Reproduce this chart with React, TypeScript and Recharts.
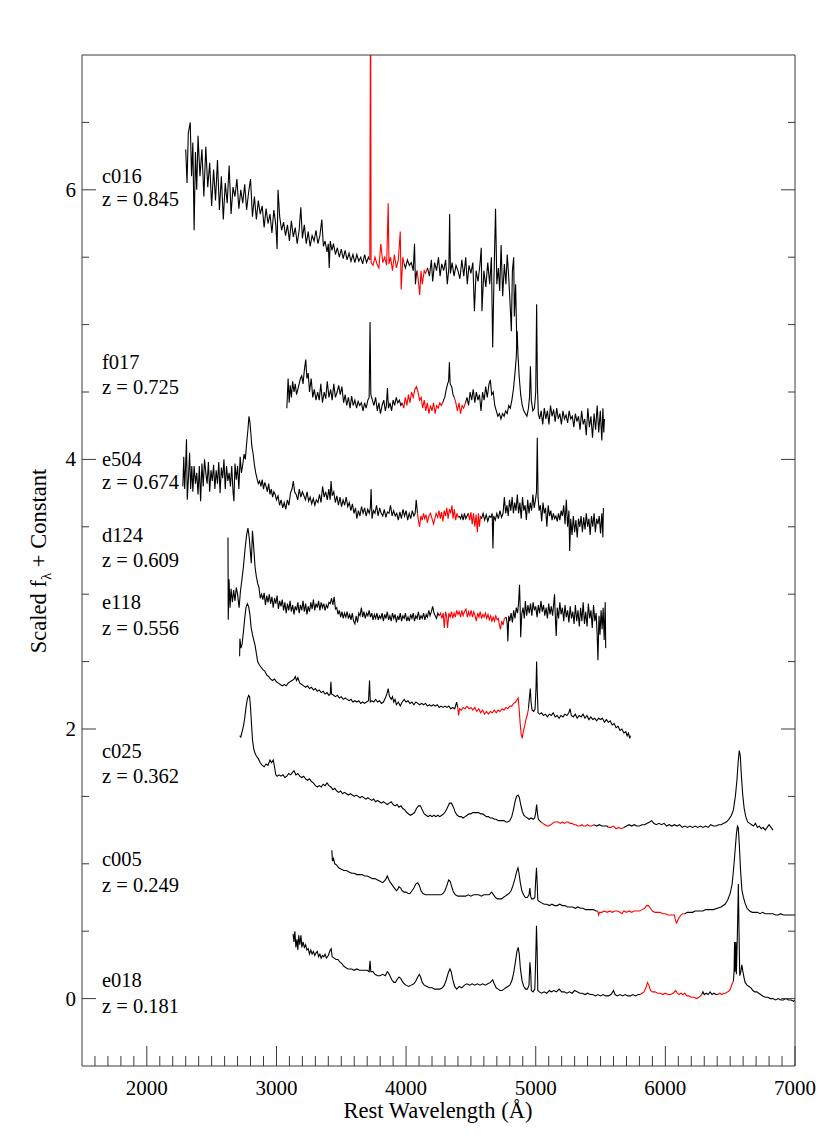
import React from "react";
import { LineChart, Line, XAxis, YAxis } from "recharts";

type Pt = [number, number];

// ---- c016, z = 0.845 ----
const c016A: Pt[] = [
  [2300, 6.3], [2310, 6.05], [2320, 6.42], [2335, 6.5], [2345, 6.1], [2355, 6.35], [2365, 5.7], [2375, 6.28],
  [2385, 6.0], [2395, 6.4], [2410, 6.1], [2425, 6.3], [2440, 5.95], [2455, 6.32], [2470, 6.02], [2485, 6.2],
  [2500, 5.88], [2515, 6.15], [2530, 5.92], [2545, 6.22], [2560, 5.85], [2575, 6.1], [2590, 5.78], [2605, 6.05],
  [2620, 5.9], [2635, 6.18], [2650, 5.82], [2665, 6.02], [2680, 5.95], [2695, 6.08], [2710, 5.86], [2725, 6.0],
  [2740, 5.9], [2755, 6.04], [2770, 5.85], [2785, 5.98], [2800, 6.08], [2815, 5.8], [2830, 5.95], [2845, 5.78],
  [2860, 5.92], [2875, 5.82], [2890, 5.88], [2905, 5.72], [2920, 5.86], [2935, 5.75], [2950, 5.82], [2965, 5.68],
  [2980, 5.85], [2995, 5.74], [3005, 5.56], [3012, 6.0], [3025, 5.8], [3040, 5.7], [3055, 5.76], [3070, 5.66],
  [3085, 5.74], [3100, 5.62], [3115, 5.77], [3130, 5.65], [3145, 5.72], [3160, 5.6], [3175, 5.7], [3188, 5.87],
  [3200, 5.64], [3215, 5.74], [3230, 5.6], [3245, 5.69], [3260, 5.58], [3275, 5.66], [3290, 5.62], [3305, 5.7],
  [3320, 5.6], [3335, 5.66], [3350, 5.78], [3362, 5.58], [3375, 5.62], [3390, 5.54], [3400, 5.6], [3407, 5.42],
  [3415, 5.62], [3428, 5.55], [3440, 5.6], [3455, 5.52], [3470, 5.57], [3485, 5.5], [3500, 5.56], [3515, 5.49],
  [3530, 5.55], [3545, 5.48], [3560, 5.53], [3575, 5.47], [3590, 5.52], [3605, 5.46], [3620, 5.52], [3635, 5.47],
  [3650, 5.5], [3665, 5.45], [3680, 5.52], [3695, 5.46], [3710, 5.5], [3720, 5.48],
];
const c016B: Pt[] = [
  [3720, 5.48], [3726, 7.6], [3730, 5.46], [3745, 5.44], [3760, 5.5], [3775, 5.45], [3790, 5.42], [3805, 5.6],
  [3820, 5.46], [3835, 5.5], [3850, 5.44], [3862, 5.9], [3868, 5.45], [3880, 5.5], [3895, 5.4], [3910, 5.52],
  [3925, 5.42], [3940, 5.48], [3955, 5.69], [3962, 5.26], [3975, 5.5], [3985, 5.45],
];
const c016C: Pt[] = [
  [3985, 5.45], [3995, 5.42], [4010, 5.48], [4025, 5.44], [4040, 5.46], [4055, 5.4], [4065, 5.6], [4072, 5.3],
  [4080, 5.38], [4085, 5.4],
];
const c016D: Pt[] = [
  [4085, 5.4], [4095, 5.32], [4105, 5.22], [4115, 5.4], [4125, 5.3], [4140, 5.4], [4150, 5.38], [4165, 5.42],
];
const c016E: Pt[] = [
  [4165, 5.42], [4180, 5.36], [4195, 5.48], [4205, 5.32], [4220, 5.46], [4235, 5.4], [4250, 5.5], [4262, 5.36],
  [4275, 5.45], [4290, 5.4], [4305, 5.48], [4318, 5.3], [4330, 5.42], [4336, 5.82], [4342, 5.38], [4355, 5.46],
  [4370, 5.36], [4385, 5.44], [4400, 5.4], [4415, 5.34], [4430, 5.48], [4445, 5.36], [4460, 5.5], [4472, 5.3],
  [4485, 5.44], [4500, 5.38], [4515, 5.46], [4527, 5.1], [4540, 5.4], [4555, 5.32], [4570, 5.45], [4580, 5.57],
  [4585, 5.1], [4600, 5.4], [4615, 5.28], [4630, 5.46], [4645, 5.3], [4658, 5.5], [4668, 4.83], [4678, 5.35],
  [4690, 5.86], [4700, 5.3], [4712, 5.42], [4722, 5.25], [4733, 5.59], [4745, 5.21], [4758, 5.45], [4770, 5.3],
  [4780, 5.52], [4790, 5.38], [4800, 5.2], [4812, 4.95], [4820, 5.4], [4830, 5.5], [4835, 5.06], [4845, 5.3],
  [4855, 4.82],
];

// ---- f017, z = 0.725 ----
const f017A: Pt[] = [
  [3080, 4.38], [3090, 4.6], [3098, 4.42], [3106, 4.55], [3115, 4.46], [3125, 4.58], [3135, 4.5], [3145, 4.56],
  [3155, 4.48], [3170, 4.54], [3185, 4.6], [3195, 4.62], [3205, 4.56], [3215, 4.66], [3226, 4.74], [3235, 4.6],
  [3245, 4.64], [3255, 4.5], [3268, 4.6], [3280, 4.46], [3292, 4.52], [3305, 4.44], [3318, 4.5], [3330, 4.44],
  [3342, 4.56], [3355, 4.42], [3368, 4.5], [3380, 4.45], [3392, 4.58], [3405, 4.46], [3418, 4.52], [3430, 4.44],
  [3442, 4.56], [3455, 4.46], [3468, 4.5], [3480, 4.55], [3492, 4.48], [3505, 4.54], [3518, 4.42], [3530, 4.48],
  [3542, 4.4], [3555, 4.46], [3568, 4.38], [3580, 4.47], [3592, 4.4], [3605, 4.44], [3618, 4.38], [3630, 4.43],
  [3642, 4.4], [3655, 4.42], [3668, 4.36], [3680, 4.42], [3692, 4.38], [3705, 4.44], [3715, 4.46], [3722, 5.02],
  [3728, 4.48], [3740, 4.44], [3752, 4.4], [3765, 4.46], [3778, 4.36], [3790, 4.42], [3802, 4.34], [3815, 4.4],
  [3828, 4.44], [3840, 4.36], [3848, 4.4], [3856, 4.53], [3864, 4.38], [3876, 4.42], [3888, 4.36], [3900, 4.44],
  [3912, 4.4], [3924, 4.46], [3936, 4.42], [3948, 4.44], [3960, 4.4], [3970, 4.42],
];
const f017B: Pt[] = [
  [3970, 4.42], [3982, 4.38], [3994, 4.46], [4006, 4.4], [4018, 4.48], [4030, 4.42], [4042, 4.5], [4055, 4.46],
  [4068, 4.52], [4080, 4.54], [4092, 4.5], [4104, 4.44], [4116, 4.46], [4128, 4.38], [4140, 4.44], [4152, 4.36],
  [4164, 4.42], [4176, 4.34], [4188, 4.4], [4200, 4.36], [4212, 4.42], [4224, 4.34], [4236, 4.4], [4248, 4.38],
  [4260, 4.42], [4272, 4.4], [4285, 4.43],
];
const f017C: Pt[] = [
  [4285, 4.43], [4298, 4.46], [4310, 4.52], [4320, 4.56], [4328, 4.58], [4334, 4.72], [4340, 4.56], [4352, 4.54],
  [4362, 4.48], [4372, 4.46],
];
const f017D: Pt[] = [
  [4372, 4.46], [4384, 4.42], [4396, 4.36], [4408, 4.42], [4420, 4.34], [4432, 4.4], [4444, 4.38], [4458, 4.42],
];
const f017E: Pt[] = [
  [4458, 4.42], [4470, 4.46], [4482, 4.4], [4494, 4.5], [4506, 4.44], [4518, 4.52], [4530, 4.42], [4542, 4.5],
  [4554, 4.44], [4566, 4.48], [4578, 4.36], [4590, 4.5], [4602, 4.44], [4614, 4.54], [4626, 4.46], [4640, 4.56],
  [4650, 4.59], [4660, 4.48], [4672, 4.5], [4684, 4.4], [4696, 4.36], [4708, 4.32], [4720, 4.34], [4732, 4.3],
  [4744, 4.34], [4756, 4.32], [4768, 4.36], [4780, 4.34], [4792, 4.4], [4804, 4.38], [4816, 4.44], [4828, 4.52],
  [4840, 4.64], [4850, 4.76], [4857, 4.95], [4863, 4.78], [4872, 4.62], [4884, 4.48], [4896, 4.4], [4908, 4.36],
  [4920, 4.34], [4932, 4.32], [4944, 4.38], [4952, 4.46], [4959, 4.69], [4966, 4.44], [4978, 4.36], [4990, 4.38],
  [5000, 4.5], [5007, 5.15], [5013, 4.55], [5020, 4.34], [5030, 4.3], [5042, 4.36], [5054, 4.26], [5066, 4.38],
  [5078, 4.3], [5090, 4.36], [5102, 4.26], [5114, 4.4], [5126, 4.32], [5138, 4.37], [5150, 4.28], [5162, 4.38],
  [5174, 4.3], [5186, 4.34], [5198, 4.26], [5210, 4.36], [5222, 4.3], [5234, 4.33], [5246, 4.27], [5258, 4.36],
  [5270, 4.3], [5282, 4.32], [5294, 4.24], [5306, 4.34], [5318, 4.28], [5330, 4.32], [5342, 4.22], [5354, 4.36],
  [5366, 4.26], [5378, 4.3], [5390, 4.18], [5402, 4.38], [5414, 4.24], [5426, 4.32], [5438, 4.16], [5450, 4.34],
  [5462, 4.22], [5474, 4.4], [5486, 4.2], [5498, 4.36], [5510, 4.14], [5518, 4.38], [5525, 4.2], [5530, 4.3],
];

// ---- e504, z = 0.674 ----
const e504A: Pt[] = [
  [2278, 3.8], [2285, 4.02], [2292, 3.78], [2300, 3.97], [2306, 4.15], [2312, 3.7], [2322, 3.88], [2330, 4.05],
  [2338, 3.78], [2347, 3.95], [2355, 3.76], [2365, 3.95], [2375, 3.82], [2385, 3.9], [2395, 3.74], [2405, 3.95],
  [2415, 3.69], [2425, 3.97], [2435, 3.8], [2445, 4.0], [2455, 3.9], [2465, 3.82], [2475, 3.98], [2485, 3.76],
  [2495, 3.92], [2505, 3.84], [2515, 3.96], [2525, 3.78], [2535, 3.92], [2545, 3.82], [2555, 3.98], [2565, 3.75],
  [2575, 3.94], [2585, 3.86], [2595, 4.0], [2605, 3.78], [2615, 3.95], [2625, 3.84], [2635, 3.9], [2645, 3.8],
  [2655, 3.95], [2665, 3.76], [2672, 3.69], [2680, 3.97], [2690, 3.85], [2700, 3.95], [2710, 3.78], [2720, 4.02],
  [2730, 3.9], [2740, 3.96], [2750, 4.04], [2760, 4.0], [2770, 4.12], [2780, 4.22], [2788, 4.32], [2795, 4.28],
  [2802, 4.2], [2810, 4.1], [2820, 4.04], [2830, 3.96], [2840, 3.9], [2850, 3.86], [2860, 3.82], [2870, 3.84],
  [2880, 3.8], [2890, 3.85], [2900, 3.78], [2910, 3.83], [2920, 3.8], [2930, 3.76], [2940, 3.82], [2950, 3.74],
  [2960, 3.78], [2970, 3.72], [2980, 3.76], [2990, 3.74], [3000, 3.7], [3012, 3.73], [3024, 3.66], [3036, 3.7],
  [3048, 3.64], [3060, 3.68], [3072, 3.63], [3084, 3.7], [3096, 3.66], [3108, 3.75], [3120, 3.78], [3130, 3.84],
  [3140, 3.76], [3152, 3.74], [3164, 3.7], [3176, 3.78], [3188, 3.72], [3200, 3.76], [3212, 3.73], [3224, 3.7],
  [3236, 3.76], [3248, 3.69], [3260, 3.72], [3272, 3.67], [3284, 3.71], [3296, 3.66], [3308, 3.7], [3320, 3.68],
  [3332, 3.74], [3344, 3.68], [3356, 3.8], [3368, 3.72], [3380, 3.76], [3392, 3.7], [3404, 3.78], [3414, 3.7],
  [3421, 3.84], [3430, 3.73], [3442, 3.76], [3454, 3.68], [3466, 3.73], [3478, 3.66], [3490, 3.72], [3502, 3.65],
  [3514, 3.7], [3526, 3.66], [3538, 3.72], [3550, 3.65], [3562, 3.68], [3574, 3.62], [3586, 3.67], [3598, 3.6],
  [3610, 3.64], [3620, 3.56], [3632, 3.62], [3644, 3.58], [3656, 3.65], [3668, 3.6], [3680, 3.64], [3692, 3.58],
  [3704, 3.63], [3716, 3.6], [3724, 3.64], [3730, 3.78], [3737, 3.56], [3748, 3.62], [3760, 3.6], [3772, 3.66],
  [3784, 3.58], [3796, 3.64], [3808, 3.6], [3820, 3.58], [3832, 3.63], [3844, 3.57], [3856, 3.61], [3868, 3.6],
  [3880, 3.66], [3892, 3.58], [3904, 3.62], [3916, 3.58], [3928, 3.6], [3940, 3.55], [3952, 3.61], [3964, 3.56],
  [3976, 3.63], [3988, 3.58], [4000, 3.62], [4012, 3.55], [4024, 3.6], [4036, 3.56], [4048, 3.62], [4060, 3.58],
  [4070, 3.6], [4078, 3.7], [4088, 3.6],
];
const e504B: Pt[] = [
  [4088, 3.6], [4096, 3.54], [4104, 3.5], [4114, 3.58], [4124, 3.55], [4134, 3.6], [4144, 3.56], [4154, 3.59],
  [4164, 3.53], [4176, 3.58], [4188, 3.6], [4200, 3.56], [4212, 3.52], [4222, 3.56], [4232, 3.6], [4244, 3.57],
  [4254, 3.62], [4264, 3.56], [4274, 3.61], [4284, 3.54], [4294, 3.62], [4304, 3.58], [4314, 3.64], [4324, 3.56],
  [4334, 3.63], [4344, 3.6], [4354, 3.66], [4362, 3.56], [4372, 3.63], [4382, 3.55], [4392, 3.6], [4402, 3.57],
  [4410, 3.58],
];
const e504C: Pt[] = [
  [4410, 3.58], [4420, 3.56], [4430, 3.59], [4440, 3.55], [4450, 3.6], [4460, 3.56], [4470, 3.58], [4480, 3.6],
];
const e504D: Pt[] = [
  [4480, 3.6], [4490, 3.55], [4500, 3.61], [4510, 3.52], [4520, 3.6], [4530, 3.5], [4540, 3.59], [4550, 3.46],
  [4558, 3.6], [4566, 3.5], [4574, 3.58], [4582, 3.56],
];
const e504E: Pt[] = [
  [4582, 3.56], [4594, 3.6], [4606, 3.55], [4618, 3.59], [4630, 3.54], [4642, 3.58], [4654, 3.57], [4664, 3.6],
  [4670, 3.34], [4676, 3.58], [4688, 3.55], [4700, 3.6], [4712, 3.56], [4724, 3.62], [4736, 3.57], [4748, 3.6],
  [4758, 3.72], [4768, 3.6], [4778, 3.66], [4788, 3.58], [4798, 3.7], [4808, 3.62], [4818, 3.72], [4828, 3.6],
  [4838, 3.68], [4848, 3.62], [4858, 3.74], [4868, 3.6], [4878, 3.68], [4888, 3.56], [4898, 3.72], [4908, 3.62],
  [4918, 3.66], [4928, 3.55], [4938, 3.7], [4948, 3.6], [4958, 3.68], [4968, 3.62], [4978, 3.74], [4988, 3.64],
  [4998, 3.7], [5006, 3.76], [5012, 4.16], [5018, 3.72], [5026, 3.62], [5036, 3.66], [5046, 3.54], [5056, 3.68],
  [5066, 3.6], [5076, 3.64], [5086, 3.5], [5096, 3.66], [5106, 3.58], [5116, 3.62], [5126, 3.55], [5136, 3.6],
  [5146, 3.56], [5156, 3.58], [5166, 3.54], [5176, 3.6], [5186, 3.55], [5196, 3.62], [5206, 3.58], [5216, 3.66],
  [5226, 3.52], [5236, 3.7], [5246, 3.5], [5256, 3.62], [5262, 3.32], [5270, 3.56], [5280, 3.44], [5290, 3.58],
  [5300, 3.46], [5310, 3.55], [5320, 3.42], [5330, 3.56], [5340, 3.5], [5350, 3.58], [5360, 3.46], [5370, 3.57],
  [5380, 3.48], [5390, 3.6], [5400, 3.5], [5410, 3.56], [5420, 3.44], [5430, 3.58], [5440, 3.5], [5450, 3.6],
  [5460, 3.46], [5470, 3.56], [5480, 3.52], [5490, 3.58], [5500, 3.45], [5510, 3.6], [5518, 3.42], [5522, 3.64],
];

// ---- d124, z = 0.609 ----
const d124A: Pt[] = [
  [2626, 3.42], [2628, 2.81], [2634, 3.11], [2642, 2.9], [2650, 3.04], [2660, 2.94], [2670, 3.03], [2680, 2.95],
  [2690, 3.05], [2700, 3.0], [2712, 2.9], [2722, 3.02], [2735, 3.12], [2745, 3.2], [2757, 3.33], [2770, 3.44],
  [2780, 3.49], [2790, 3.42], [2800, 3.3], [2806, 3.23], [2815, 3.47], [2825, 3.34], [2835, 3.2], [2845, 3.13],
  [2855, 3.08], [2865, 3.05], [2875, 2.97], [2885, 3.0], [2895, 2.96], [2905, 3.01], [2915, 2.92], [2925, 2.99],
  [2935, 2.94], [2945, 3.0], [2955, 2.93], [2965, 2.98], [2975, 2.9], [2985, 2.97], [2995, 2.93], [3005, 2.99],
  [3015, 2.89], [3025, 2.95], [3035, 2.91], [3045, 2.96], [3055, 2.88], [3065, 2.94], [3075, 2.86], [3085, 2.93],
  [3095, 2.88], [3105, 2.95], [3115, 2.87], [3125, 2.92], [3135, 2.85], [3145, 2.91], [3155, 2.88], [3165, 2.94],
  [3175, 2.86], [3185, 2.92], [3195, 2.88], [3205, 2.95], [3215, 2.87], [3225, 2.93], [3235, 2.85], [3245, 2.91],
  [3255, 2.87], [3265, 2.94], [3275, 2.89], [3285, 2.96], [3295, 2.88], [3305, 2.93], [3315, 2.9], [3325, 2.95],
  [3335, 2.88], [3345, 2.94], [3355, 2.9], [3365, 2.93], [3375, 2.88], [3385, 2.92], [3395, 2.9], [3405, 2.94],
  [3415, 2.93], [3425, 2.97], [3435, 2.92], [3445, 2.98], [3455, 2.89], [3465, 2.9], [3475, 2.85], [3485, 2.88],
  [3495, 2.83], [3505, 2.87], [3515, 2.82], [3525, 2.86], [3535, 2.83], [3545, 2.87], [3555, 2.82], [3565, 2.85],
  [3575, 2.81], [3585, 2.86], [3595, 2.8], [3605, 2.78], [3615, 2.84], [3625, 2.79], [3635, 2.86], [3645, 2.84],
  [3655, 2.9], [3665, 2.83], [3675, 2.87], [3685, 2.82], [3695, 2.86], [3705, 2.84], [3715, 2.88], [3725, 2.83],
  [3735, 2.86], [3745, 2.81], [3755, 2.85], [3765, 2.82], [3775, 2.86], [3785, 2.81], [3795, 2.84], [3805, 2.82],
  [3815, 2.86], [3825, 2.8], [3835, 2.85], [3845, 2.82], [3855, 2.87], [3865, 2.81], [3875, 2.84], [3885, 2.8],
  [3895, 2.86], [3905, 2.82], [3915, 2.85], [3925, 2.79], [3935, 2.84], [3945, 2.81], [3955, 2.86], [3965, 2.8],
  [3975, 2.84], [3985, 2.82], [3995, 2.86], [4005, 2.8], [4015, 2.83], [4025, 2.8], [4035, 2.85], [4045, 2.82],
  [4055, 2.86], [4065, 2.8], [4075, 2.84], [4085, 2.82], [4095, 2.87], [4105, 2.81], [4115, 2.84], [4125, 2.82],
  [4135, 2.86], [4145, 2.81], [4155, 2.85], [4165, 2.83], [4175, 2.88], [4185, 2.84], [4195, 2.87], [4205, 2.91],
  [4215, 2.86], [4225, 2.84], [4235, 2.82], [4245, 2.86], [4256, 2.84],
];
const d124B: Pt[] = [
  [4256, 2.84], [4266, 2.86], [4276, 2.82], [4286, 2.86], [4295, 2.75], [4304, 2.87], [4312, 2.84], [4320, 2.75],
  [4330, 2.86], [4340, 2.83], [4350, 2.87], [4360, 2.82], [4370, 2.86], [4380, 2.83], [4390, 2.88], [4400, 2.85],
  [4410, 2.87], [4420, 2.83], [4430, 2.88], [4440, 2.84], [4450, 2.87], [4462, 2.89], [4472, 2.83], [4482, 2.87],
  [4492, 2.84], [4502, 2.88], [4512, 2.83], [4522, 2.87], [4532, 2.84], [4542, 2.8], [4552, 2.86], [4562, 2.83],
  [4572, 2.87], [4582, 2.82], [4592, 2.85], [4602, 2.83], [4612, 2.86], [4622, 2.82], [4632, 2.85], [4642, 2.81],
  [4652, 2.84], [4662, 2.8], [4672, 2.83], [4682, 2.8], [4692, 2.84], [4702, 2.81], [4712, 2.82], [4720, 2.77],
  [4728, 2.74], [4738, 2.8], [4748, 2.77], [4758, 2.82], [4772, 2.83],
];
const d124C: Pt[] = [
  [4772, 2.83], [4780, 2.78], [4785, 2.65], [4792, 2.84], [4800, 2.8], [4810, 2.86], [4820, 2.79], [4830, 2.88],
  [4840, 2.82], [4850, 2.9], [4860, 2.86], [4868, 2.94], [4875, 3.07], [4880, 2.9], [4884, 2.68], [4892, 2.85],
  [4902, 2.9], [4912, 2.82], [4920, 2.95], [4930, 2.84], [4940, 2.92], [4950, 2.86], [4960, 2.93], [4970, 2.84],
  [4980, 2.94], [4990, 2.88], [5000, 2.91], [5010, 2.83], [5020, 2.92], [5030, 2.86], [5040, 2.95], [5050, 2.87],
  [5060, 2.92], [5070, 2.84], [5080, 2.9], [5090, 2.82], [5100, 2.93], [5110, 2.85], [5120, 2.91], [5130, 2.84],
  [5145, 3.0], [5150, 2.86], [5158, 2.69], [5166, 2.9], [5176, 2.82], [5186, 2.94], [5196, 2.85], [5206, 2.9],
  [5216, 2.8], [5226, 2.92], [5236, 2.83], [5246, 2.88], [5256, 2.79], [5266, 2.91], [5276, 2.82], [5286, 2.87],
  [5296, 2.78], [5306, 2.92], [5316, 2.8], [5326, 2.88], [5336, 2.76], [5346, 2.9], [5356, 2.8], [5366, 2.94],
  [5376, 2.78], [5386, 2.87], [5396, 2.76], [5406, 2.93], [5416, 2.82], [5426, 2.88], [5436, 2.75], [5446, 2.92],
  [5456, 2.8], [5466, 2.86], [5474, 2.7], [5480, 2.51], [5488, 2.84], [5496, 2.7], [5504, 2.88], [5512, 2.74],
  [5520, 2.9], [5528, 2.66], [5536, 2.94], [5540, 2.6],
];

// ---- e118, z = 0.556 ----
const e118A: Pt[] = [
  [2716, 2.54], [2718, 2.67], [2726, 2.6], [2735, 2.63], [2745, 2.72], [2755, 2.82], [2765, 2.9], [2775, 2.93],
  [2785, 2.91], [2795, 2.85], [2805, 2.75], [2815, 2.7], [2825, 2.66], [2835, 2.62], [2845, 2.56], [2855, 2.5],
  [2865, 2.48], [2880, 2.46], [2895, 2.44], [2910, 2.43], [2925, 2.4], [2940, 2.39], [2955, 2.37], [2970, 2.36],
  [2985, 2.37], [3000, 2.35], [3015, 2.34], [3030, 2.33], [3045, 2.32], [3060, 2.33], [3075, 2.32], [3090, 2.34],
  [3105, 2.35], [3120, 2.36], [3135, 2.37], [3145, 2.39], [3155, 2.36], [3165, 2.38], [3180, 2.34], [3195, 2.33],
  [3210, 2.32], [3225, 2.31], [3240, 2.32], [3255, 2.3], [3270, 2.31], [3285, 2.29], [3300, 2.3], [3315, 2.28],
  [3330, 2.29], [3345, 2.27], [3360, 2.28], [3375, 2.26], [3390, 2.27], [3405, 2.25], [3415, 2.26], [3420, 2.35],
  [3425, 2.26], [3440, 2.25], [3455, 2.24], [3470, 2.25], [3485, 2.23], [3500, 2.24], [3515, 2.22], [3530, 2.23],
  [3545, 2.22], [3560, 2.21], [3575, 2.22], [3590, 2.2], [3605, 2.21], [3620, 2.2], [3635, 2.21], [3650, 2.19],
  [3665, 2.2], [3680, 2.19], [3695, 2.2], [3710, 2.21], [3718, 2.36], [3724, 2.2], [3735, 2.21], [3750, 2.2],
  [3765, 2.22], [3780, 2.2], [3795, 2.21], [3810, 2.19], [3825, 2.2], [3840, 2.23], [3852, 2.26], [3862, 2.3],
  [3872, 2.24], [3885, 2.22], [3895, 2.24], [3905, 2.2], [3915, 2.22], [3925, 2.18], [3940, 2.2], [3955, 2.17],
  [3970, 2.2], [3985, 2.22], [4000, 2.2], [4015, 2.21], [4030, 2.19], [4045, 2.2], [4060, 2.18], [4075, 2.2],
  [4090, 2.19], [4105, 2.18], [4120, 2.19], [4135, 2.18], [4150, 2.19], [4165, 2.17], [4180, 2.18], [4195, 2.17],
  [4210, 2.18], [4225, 2.17], [4240, 2.18], [4255, 2.16], [4270, 2.17], [4285, 2.16], [4300, 2.17], [4315, 2.16],
  [4330, 2.17], [4345, 2.15], [4360, 2.16], [4375, 2.15], [4390, 2.2], [4398, 2.16],
];
const e118B: Pt[] = [
  [4398, 2.16], [4405, 2.1], [4412, 2.15], [4425, 2.14], [4440, 2.16], [4455, 2.15], [4470, 2.17], [4485, 2.15],
  [4500, 2.16], [4515, 2.14], [4530, 2.16], [4545, 2.13], [4560, 2.15], [4575, 2.12], [4590, 2.14], [4605, 2.11],
  [4620, 2.13], [4635, 2.11], [4650, 2.13], [4665, 2.12], [4680, 2.14], [4695, 2.12], [4710, 2.14], [4725, 2.13],
  [4740, 2.15], [4755, 2.14], [4770, 2.16], [4785, 2.15], [4800, 2.17], [4815, 2.17], [4830, 2.19], [4845, 2.2],
  [4865, 2.23], [4872, 2.15], [4880, 2.04], [4888, 1.96], [4896, 1.93], [4904, 1.98], [4914, 2.02], [4924, 2.07],
  [4934, 2.1], [4944, 2.15],
];
const e118C: Pt[] = [
  [4944, 2.15], [4950, 2.22], [4958, 2.3], [4964, 2.2], [4972, 2.14], [4985, 2.13], [4995, 2.15], [5002, 2.3],
  [5007, 2.5], [5012, 2.28], [5018, 2.12], [5030, 2.11], [5045, 2.12], [5060, 2.1], [5075, 2.11], [5090, 2.09],
  [5105, 2.11], [5120, 2.1], [5135, 2.12], [5150, 2.09], [5165, 2.1], [5180, 2.08], [5195, 2.1], [5210, 2.09],
  [5225, 2.11], [5240, 2.1], [5255, 2.12], [5265, 2.15], [5275, 2.1], [5290, 2.09], [5305, 2.11], [5320, 2.08],
  [5335, 2.1], [5350, 2.09], [5365, 2.11], [5380, 2.08], [5395, 2.1], [5410, 2.07], [5425, 2.09], [5440, 2.07],
  [5455, 2.08], [5470, 2.06], [5485, 2.08], [5500, 2.07], [5515, 2.08], [5530, 2.05], [5545, 2.07], [5560, 2.05],
  [5575, 2.06], [5590, 2.03], [5605, 2.04], [5620, 2.01], [5635, 2.02], [5650, 1.99], [5665, 2.0], [5680, 1.97],
  [5695, 1.98], [5705, 1.95], [5715, 1.97], [5725, 1.93], [5730, 1.95],
];

// ---- c025, z = 0.362 ----
const c025A: Pt[] = [
  [2716, 1.95], [2725, 1.94], [2735, 1.98], [2745, 2.02], [2755, 2.08], [2765, 2.16], [2775, 2.22], [2785, 2.25],
  [2793, 2.24], [2800, 2.16], [2808, 2.03], [2815, 1.92], [2825, 1.85], [2835, 1.82], [2845, 1.8], [2860, 1.78],
  [2875, 1.75], [2890, 1.73], [2905, 1.72], [2920, 1.74], [2935, 1.73], [2950, 1.77], [2962, 1.75], [2975, 1.77],
  [2985, 1.72], [2995, 1.66], [3005, 1.65], [3020, 1.66], [3035, 1.65], [3050, 1.66], [3065, 1.64], [3080, 1.65],
  [3095, 1.67], [3110, 1.66], [3125, 1.68], [3135, 1.69], [3150, 1.66], [3165, 1.67], [3180, 1.65], [3195, 1.64],
  [3210, 1.65], [3225, 1.63], [3240, 1.62], [3255, 1.63], [3270, 1.61], [3285, 1.6], [3300, 1.58], [3315, 1.57],
  [3330, 1.58], [3345, 1.57], [3360, 1.59], [3375, 1.58], [3390, 1.6], [3405, 1.58], [3420, 1.57], [3435, 1.55],
  [3450, 1.56], [3465, 1.54], [3480, 1.53], [3495, 1.54], [3510, 1.52], [3525, 1.53], [3540, 1.52], [3555, 1.51],
  [3570, 1.52], [3585, 1.51], [3600, 1.5], [3615, 1.51], [3630, 1.5], [3645, 1.49], [3660, 1.5], [3675, 1.49],
  [3690, 1.48], [3705, 1.49], [3720, 1.48], [3735, 1.47], [3750, 1.48], [3765, 1.46], [3780, 1.47], [3795, 1.46],
  [3810, 1.45], [3825, 1.46], [3840, 1.45], [3855, 1.44], [3870, 1.45], [3885, 1.46], [3900, 1.44], [3915, 1.43],
  [3930, 1.44], [3945, 1.42], [3960, 1.43], [3975, 1.41], [3990, 1.4], [4005, 1.38], [4020, 1.37], [4035, 1.36],
  [4050, 1.37], [4065, 1.38], [4080, 1.41], [4095, 1.43], [4110, 1.43], [4125, 1.4], [4140, 1.37], [4155, 1.36],
  [4170, 1.35], [4185, 1.36], [4200, 1.35], [4215, 1.36], [4230, 1.35], [4245, 1.36], [4260, 1.35], [4275, 1.36],
  [4290, 1.37], [4305, 1.39], [4320, 1.42], [4335, 1.45], [4350, 1.45], [4365, 1.42], [4380, 1.38], [4395, 1.36],
  [4410, 1.35], [4425, 1.35], [4440, 1.34], [4455, 1.35], [4470, 1.36], [4485, 1.37], [4500, 1.37], [4515, 1.38],
  [4530, 1.38], [4545, 1.38], [4560, 1.38], [4575, 1.37], [4590, 1.37], [4605, 1.36], [4620, 1.35], [4635, 1.35],
  [4650, 1.34], [4665, 1.34], [4680, 1.33], [4695, 1.33], [4710, 1.32], [4725, 1.32], [4740, 1.32], [4755, 1.32],
  [4770, 1.31], [4785, 1.31], [4800, 1.32], [4815, 1.35], [4828, 1.4], [4840, 1.46], [4852, 1.5], [4864, 1.51],
  [4874, 1.49], [4884, 1.44], [4896, 1.39], [4908, 1.36], [4920, 1.35], [4935, 1.34], [4950, 1.33], [4965, 1.34],
  [4980, 1.33], [4992, 1.34], [5000, 1.38], [5007, 1.44], [5013, 1.38], [5020, 1.33], [5030, 1.32], [5040, 1.31],
];
const c025B: Pt[] = [
  [5040, 1.31], [5055, 1.3], [5070, 1.29], [5085, 1.28], [5100, 1.28], [5115, 1.29], [5130, 1.3], [5145, 1.31],
  [5160, 1.31], [5175, 1.31], [5190, 1.3], [5205, 1.31], [5220, 1.3], [5235, 1.31], [5250, 1.31], [5265, 1.3],
  [5280, 1.3], [5295, 1.29], [5310, 1.29], [5325, 1.28], [5340, 1.28], [5355, 1.29], [5370, 1.28], [5385, 1.28],
  [5400, 1.29], [5415, 1.28], [5430, 1.28], [5450, 1.29],
];
const c025C: Pt[] = [
  [5450, 1.29], [5470, 1.28], [5490, 1.29], [5510, 1.28], [5530, 1.28], [5550, 1.28], [5560, 1.27],
];
const c025D: Pt[] = [
  [5560, 1.27], [5580, 1.27], [5600, 1.28], [5620, 1.26], [5640, 1.27], [5660, 1.26], [5680, 1.27],
];
const c025E: Pt[] = [
  [5680, 1.27], [5700, 1.28], [5720, 1.29], [5740, 1.28], [5760, 1.29], [5780, 1.28], [5800, 1.28], [5820, 1.29],
  [5840, 1.29], [5860, 1.3], [5880, 1.31], [5895, 1.32], [5910, 1.3], [5930, 1.29], [5950, 1.3], [5970, 1.29],
  [5990, 1.3], [6010, 1.28], [6030, 1.29], [6050, 1.28], [6070, 1.29], [6090, 1.28], [6110, 1.29], [6130, 1.27],
  [6150, 1.28], [6170, 1.27], [6190, 1.28], [6210, 1.27], [6230, 1.28], [6250, 1.27], [6270, 1.28], [6290, 1.27],
  [6310, 1.28], [6330, 1.27], [6350, 1.29], [6370, 1.28], [6390, 1.28], [6410, 1.29], [6430, 1.29], [6450, 1.3],
  [6470, 1.31], [6490, 1.33], [6510, 1.36], [6525, 1.4], [6540, 1.5], [6552, 1.62], [6562, 1.76], [6570, 1.84],
  [6578, 1.8], [6586, 1.66], [6596, 1.52], [6608, 1.41], [6620, 1.35], [6635, 1.31], [6650, 1.3], [6665, 1.29],
  [6680, 1.28], [6695, 1.3], [6710, 1.27], [6725, 1.28], [6740, 1.26], [6755, 1.27], [6770, 1.25], [6785, 1.27],
  [6800, 1.29], [6815, 1.27], [6830, 1.25],
];

// ---- c005, z = 0.249 ----
const c005A: Pt[] = [
  [3427, 1.1], [3432, 1.02], [3440, 1.04], [3450, 1.0], [3465, 0.99], [3480, 0.97], [3500, 0.96], [3520, 0.95],
  [3540, 0.95], [3560, 0.94], [3580, 0.93], [3600, 0.93], [3620, 0.92], [3640, 0.92], [3660, 0.92], [3680, 0.91],
  [3700, 0.91], [3720, 0.9], [3740, 0.89], [3760, 0.89], [3780, 0.88], [3800, 0.87], [3820, 0.86], [3840, 0.88],
  [3855, 0.91], [3868, 0.88], [3880, 0.86], [3895, 0.84], [3910, 0.82], [3925, 0.8], [3935, 0.81], [3945, 0.83],
  [3958, 0.82], [3970, 0.8], [3985, 0.79], [4000, 0.79], [4015, 0.78], [4030, 0.78], [4045, 0.8], [4060, 0.82],
  [4075, 0.85], [4090, 0.86], [4102, 0.84], [4115, 0.8], [4130, 0.78], [4150, 0.77], [4170, 0.77], [4190, 0.77],
  [4210, 0.77], [4230, 0.77], [4250, 0.77], [4270, 0.77], [4285, 0.78], [4300, 0.8], [4315, 0.84], [4328, 0.88],
  [4340, 0.87], [4352, 0.83], [4365, 0.79], [4380, 0.77], [4400, 0.76], [4420, 0.76], [4440, 0.76], [4460, 0.76],
  [4480, 0.77], [4500, 0.76], [4520, 0.77], [4540, 0.77], [4560, 0.77], [4580, 0.76], [4600, 0.77], [4620, 0.77],
  [4640, 0.77], [4660, 0.79], [4675, 0.77], [4690, 0.75], [4705, 0.74], [4720, 0.74], [4735, 0.74], [4750, 0.75],
  [4765, 0.76], [4780, 0.77], [4795, 0.78], [4810, 0.8], [4825, 0.84], [4840, 0.89], [4852, 0.94], [4863, 0.97],
  [4871, 0.93], [4881, 0.86], [4893, 0.8], [4906, 0.77], [4920, 0.75], [4935, 0.75], [4948, 0.77], [4955, 0.82],
  [4961, 0.76], [4968, 0.74], [4980, 0.74], [4993, 0.75], [5000, 0.88], [5006, 0.97], [5011, 0.86], [5016, 0.73],
  [5028, 0.72], [5045, 0.71], [5065, 0.7], [5085, 0.7], [5105, 0.69], [5125, 0.7], [5145, 0.69], [5165, 0.69],
  [5185, 0.7], [5205, 0.69], [5225, 0.69], [5245, 0.68], [5265, 0.68], [5285, 0.68], [5305, 0.67], [5325, 0.68],
  [5345, 0.67], [5365, 0.67], [5385, 0.66], [5405, 0.66], [5425, 0.66], [5445, 0.66], [5465, 0.65], [5478, 0.65],
];
const c005B: Pt[] = [
  [5478, 0.65], [5485, 0.62], [5492, 0.64], [5510, 0.64], [5530, 0.65], [5550, 0.64], [5570, 0.65], [5590, 0.64],
  [5610, 0.65], [5630, 0.65], [5650, 0.64], [5665, 0.63], [5680, 0.65], [5700, 0.64], [5720, 0.65], [5740, 0.64],
  [5760, 0.65], [5780, 0.65], [5800, 0.65], [5820, 0.66], [5840, 0.67], [5855, 0.69], [5870, 0.69], [5885, 0.67],
  [5900, 0.65], [5920, 0.64], [5940, 0.64], [5960, 0.64], [5980, 0.63], [6000, 0.63], [6020, 0.62], [6040, 0.62],
  [6060, 0.62], [6070, 0.62], [6078, 0.58], [6086, 0.56], [6095, 0.58], [6105, 0.6], [6120, 0.62], [6135, 0.63],
  [6150, 0.63],
];
const c005C: Pt[] = [
  [6150, 0.63], [6170, 0.64], [6190, 0.64], [6210, 0.64], [6230, 0.65], [6250, 0.65], [6270, 0.65], [6290, 0.65],
  [6310, 0.66], [6330, 0.66], [6350, 0.66], [6370, 0.66], [6400, 0.67], [6430, 0.68], [6460, 0.7], [6480, 0.73],
  [6500, 0.78], [6515, 0.85], [6528, 0.98], [6538, 1.1], [6548, 1.22], [6556, 1.28], [6562, 1.27], [6570, 1.15],
  [6580, 0.95], [6590, 0.81], [6600, 0.76], [6614, 0.71], [6630, 0.67], [6650, 0.65], [6670, 0.64], [6690, 0.64],
  [6710, 0.64], [6730, 0.63], [6750, 0.64], [6770, 0.63], [6790, 0.63], [6810, 0.63], [6830, 0.63], [6850, 0.62],
  [6870, 0.62], [6890, 0.63], [6910, 0.62], [6930, 0.62], [6950, 0.62], [6970, 0.62], [6990, 0.62], [7000, 0.62],
];

// ---- e018, z = 0.181 ----
const e018A: Pt[] = [
  [3128, 0.48], [3135, 0.42], [3142, 0.5], [3150, 0.38], [3158, 0.44], [3165, 0.36], [3172, 0.47], [3180, 0.4],
  [3189, 0.47], [3196, 0.38], [3205, 0.42], [3215, 0.38], [3225, 0.4], [3235, 0.36], [3245, 0.37], [3255, 0.33],
  [3265, 0.36], [3275, 0.33], [3285, 0.35], [3295, 0.32], [3305, 0.34], [3315, 0.35], [3325, 0.31], [3335, 0.33],
  [3345, 0.3], [3355, 0.32], [3365, 0.31], [3375, 0.33], [3385, 0.3], [3400, 0.32], [3415, 0.36], [3422, 0.37],
  [3430, 0.31], [3445, 0.3], [3460, 0.29], [3475, 0.29], [3490, 0.27], [3505, 0.26], [3520, 0.24], [3535, 0.23],
  [3550, 0.22], [3565, 0.22], [3580, 0.22], [3600, 0.21], [3620, 0.22], [3640, 0.21], [3660, 0.21], [3680, 0.21],
  [3700, 0.21], [3715, 0.2], [3722, 0.28], [3728, 0.2], [3745, 0.2], [3760, 0.18], [3780, 0.17], [3800, 0.17],
  [3820, 0.18], [3840, 0.17], [3855, 0.2], [3865, 0.19], [3875, 0.17], [3890, 0.14], [3905, 0.12], [3918, 0.12],
  [3930, 0.14], [3945, 0.16], [3958, 0.15], [3970, 0.13], [3985, 0.11], [4000, 0.1], [4020, 0.09], [4040, 0.1],
  [4060, 0.11], [4075, 0.13], [4090, 0.16], [4102, 0.18], [4112, 0.16], [4125, 0.12], [4140, 0.1], [4160, 0.09],
  [4180, 0.08], [4200, 0.08], [4220, 0.07], [4240, 0.07], [4260, 0.07], [4280, 0.08], [4295, 0.1], [4310, 0.14],
  [4325, 0.19], [4338, 0.22], [4348, 0.2], [4360, 0.14], [4375, 0.09], [4390, 0.07], [4410, 0.09], [4430, 0.08],
  [4450, 0.1], [4470, 0.11], [4490, 0.1], [4510, 0.11], [4530, 0.1], [4550, 0.11], [4570, 0.1], [4590, 0.11],
  [4610, 0.1], [4630, 0.11], [4650, 0.12], [4668, 0.14], [4680, 0.11], [4695, 0.08], [4710, 0.07], [4725, 0.06],
  [4740, 0.06], [4755, 0.07], [4770, 0.08], [4785, 0.09], [4800, 0.1], [4815, 0.13], [4830, 0.19], [4843, 0.27],
  [4855, 0.35], [4865, 0.38], [4873, 0.33], [4882, 0.22], [4895, 0.13], [4908, 0.09], [4922, 0.07], [4936, 0.07],
  [4948, 0.1], [4955, 0.27], [4961, 0.2], [4966, 0.06], [4980, 0.05], [4993, 0.07], [5000, 0.3], [5006, 0.54],
  [5011, 0.35], [5016, 0.06], [5028, 0.05], [5045, 0.04], [5065, 0.05], [5085, 0.04], [5105, 0.06], [5120, 0.05],
  [5140, 0.06], [5160, 0.05], [5180, 0.07], [5200, 0.05], [5220, 0.05], [5240, 0.04], [5260, 0.05], [5280, 0.04],
  [5300, 0.06], [5320, 0.05], [5340, 0.04], [5360, 0.04], [5380, 0.03], [5400, 0.04], [5420, 0.03], [5440, 0.03],
  [5460, 0.02], [5480, 0.03], [5500, 0.02], [5520, 0.03], [5540, 0.02], [5560, 0.02], [5580, 0.03], [5600, 0.06],
  [5612, 0.03], [5630, 0.02], [5650, 0.03], [5670, 0.02], [5690, 0.03], [5710, 0.02], [5730, 0.02], [5750, 0.03],
  [5770, 0.02], [5790, 0.03], [5805, 0.03],
];
const e018B: Pt[] = [
  [5805, 0.03], [5820, 0.04], [5835, 0.05], [5850, 0.08], [5862, 0.12], [5872, 0.1], [5885, 0.06], [5900, 0.05],
  [5920, 0.05], [5940, 0.04], [5960, 0.04], [5980, 0.03], [6000, 0.04], [6020, 0.03], [6040, 0.03], [6060, 0.04],
  [6080, 0.06], [6092, 0.04], [6105, 0.03], [6120, 0.04], [6135, 0.03], [6150, 0.04], [6165, 0.02], [6180, 0.02],
  [6200, 0.01], [6220, 0.01], [6240, 0.0], [6260, 0.01], [6280, 0.03],
];
const e018C: Pt[] = [
  [6280, 0.03], [6290, 0.05], [6300, 0.03], [6315, 0.04], [6330, 0.03], [6345, 0.05], [6360, 0.03], [6375, 0.04],
  [6390, 0.03], [6405, 0.03],
];
const e018D: Pt[] = [
  [6405, 0.03], [6420, 0.04], [6435, 0.03], [6450, 0.04], [6465, 0.04], [6480, 0.05], [6495, 0.06], [6505, 0.08],
  [6515, 0.11], [6525, 0.13],
];
const e018E: Pt[] = [
  [6525, 0.13], [6530, 0.2], [6534, 0.42], [6538, 0.2], [6544, 0.42], [6548, 0.18], [6556, 0.5], [6563, 0.85],
  [6568, 0.5], [6574, 0.17], [6582, 0.2], [6590, 0.25], [6598, 0.2], [6606, 0.16], [6615, 0.12], [6630, 0.1],
  [6645, 0.09], [6660, 0.08], [6675, 0.06], [6690, 0.05], [6705, 0.05], [6720, 0.04], [6735, 0.03], [6750, 0.02],
  [6770, 0.01], [6790, 0.01], [6810, 0.0], [6830, 0.0], [6850, -0.01], [6870, 0.0], [6890, -0.01], [6910, -0.01],
  [6930, 0.0], [6950, -0.01], [6970, -0.01], [6990, -0.02], [7000, -0.01],
];

const objectNames = ["c016", "f017", "e504", "d124", "e118", "c025", "c005", "e018"];
const redshifts = ["0.845", "0.725", "0.674", "0.609", "0.556", "0.362", "0.249", "0.181"];

const xTicks = [
  1600, 1700, 1800, 1900, 2000, 2100, 2200, 2300, 2400, 2500, 2600, 2700, 2800, 2900, 3000,
  3100, 3200, 3300, 3400, 3500, 3600, 3700, 3800, 3900, 4000, 4100, 4200, 4300, 4400, 4500,
  4600, 4700, 4800, 4900, 5000, 5100, 5200, 5300, 5400, 5500, 5600, 5700, 5800, 5900, 6000,
  6100, 6200, 6300, 6400, 6500, 6600, 6700, 6800, 6900, 7000,
];
const yTicks = [0, 0.5, 1, 1.5, 2, 2.5, 3, 3.5, 4, 4.5, 5, 5.5, 6, 6.5];

const BLACK = "#000000";
const RED = "#ff0000";
const FRAME = "#3a3a3a";
const FONT = "Liberation Serif";

const segments: Array<{ id: string; pts: Pt[]; color: string }> = [
  { id: "c016A", pts: c016A, color: BLACK },
  { id: "c016B", pts: c016B, color: RED },
  { id: "c016C", pts: c016C, color: BLACK },
  { id: "c016D", pts: c016D, color: RED },
  { id: "c016E", pts: c016E, color: BLACK },
  { id: "f017A", pts: f017A, color: BLACK },
  { id: "f017B", pts: f017B, color: RED },
  { id: "f017C", pts: f017C, color: BLACK },
  { id: "f017D", pts: f017D, color: RED },
  { id: "f017E", pts: f017E, color: BLACK },
  { id: "e504A", pts: e504A, color: BLACK },
  { id: "e504B", pts: e504B, color: RED },
  { id: "e504C", pts: e504C, color: BLACK },
  { id: "e504D", pts: e504D, color: RED },
  { id: "e504E", pts: e504E, color: BLACK },
  { id: "d124A", pts: d124A, color: BLACK },
  { id: "d124B", pts: d124B, color: RED },
  { id: "d124C", pts: d124C, color: BLACK },
  { id: "e118A", pts: e118A, color: BLACK },
  { id: "e118B", pts: e118B, color: RED },
  { id: "e118C", pts: e118C, color: BLACK },
  { id: "c025A", pts: c025A, color: BLACK },
  { id: "c025B", pts: c025B, color: RED },
  { id: "c025C", pts: c025C, color: BLACK },
  { id: "c025D", pts: c025D, color: RED },
  { id: "c025E", pts: c025E, color: BLACK },
  { id: "c005A", pts: c005A, color: BLACK },
  { id: "c005B", pts: c005B, color: RED },
  { id: "c005C", pts: c005C, color: BLACK },
  { id: "e018A", pts: e018A, color: BLACK },
  { id: "e018B", pts: e018B, color: RED },
  { id: "e018C", pts: e018C, color: BLACK },
  { id: "e018D", pts: e018D, color: RED },
  { id: "e018E", pts: e018E, color: BLACK },
];

// label layout: baselines of the name line and the z line
const labelNameY = [183, 369, 466, 542, 609, 758, 866, 987];
const labelZY = [206, 394, 489, 567, 635, 783, 892, 1013];

const textStyle: React.CSSProperties = { fontFamily: FONT };

function BottomTick({ x, y, payload }: any) {
  const major = payload.value % 1000 === 0;
  return (
    <g>
      <line x1={x} x2={x} y1={y} y2={y - (major ? 20 : 10)} stroke={FRAME} />
      {major && (
        <text x={x} y={y + 29} textAnchor="middle" fontSize={21} style={textStyle} fill="#000">
          {payload.value}
        </text>
      )}
    </g>
  );
}

function TopTick({ x, y, payload }: any) {
  const major = payload.value % 1000 === 0;
  return <line x1={x} x2={x} y1={y} y2={y + (major ? 20 : 10)} stroke={FRAME} />;
}

function LeftTick({ x, y, payload }: any) {
  const major = payload.value % 2 === 0;
  return (
    <g>
      <line x1={x} x2={x + (major ? 14 : 7)} y1={y} y2={y} stroke={FRAME} />
      {major && (
        <text x={x - 6} y={y + 7} textAnchor="end" fontSize={21} style={textStyle} fill="#000">
          {payload.value}
        </text>
      )}
    </g>
  );
}

function RightTick({ x, y, payload }: any) {
  const major = payload.value % 2 === 0;
  return <line x1={x} x2={x - (major ? 14 : 7)} y1={y} y2={y} stroke={FRAME} />;
}

export default function App() {
  return (
    <div style={{ position: "absolute", left: 0, top: 0, width: 830, height: 1142, background: "#fff" }}>
      <LineChart width={830} height={1142} margin={{ top: 45, right: 25, bottom: 26, left: 42 }}>
        <XAxis
          xAxisId="b"
          dataKey="wl"
          type="number"
          domain={[1500, 7000]}
          ticks={xTicks}
          interval={0}
          tick={<BottomTick />}
          tickLine={false}
          tickSize={0}
          tickMargin={0}
          axisLine={{ stroke: FRAME }}
          height={50}
          allowDataOverflow
        />
        <XAxis
          xAxisId="t"
          orientation="top"
          type="number"
          domain={[1500, 7000]}
          ticks={xTicks}
          interval={0}
          tick={<TopTick />}
          tickLine={false}
          tickSize={0}
          tickMargin={0}
          axisLine={{ stroke: FRAME }}
          height={10}
          allowDataOverflow
        />
        <YAxis
          yAxisId="l"
          type="number"
          domain={[-0.5, 7]}
          ticks={yTicks}
          interval={0}
          tick={<LeftTick />}
          tickLine={false}
          tickSize={0}
          tickMargin={0}
          axisLine={{ stroke: FRAME }}
          width={40}
          allowDataOverflow
        />
        <YAxis
          yAxisId="r"
          orientation="right"
          type="number"
          domain={[-0.5, 7]}
          ticks={yTicks}
          interval={0}
          tick={<RightTick />}
          tickLine={false}
          tickSize={0}
          tickMargin={0}
          axisLine={{ stroke: FRAME }}
          width={10}
          allowDataOverflow
        />
        {segments.map((s) => (
          <Line
            key={s.id}
            data={s.pts.map(([wl, f]) => ({ wl, f }))}
            dataKey="f"
            xAxisId="b"
            yAxisId="l"
            type="linear"
            stroke={s.color}
            strokeWidth={1.1}
            dot={false}
            activeDot={false}
            isAnimationActive={false}
          />
        ))}
      </LineChart>
      <svg
        width={830}
        height={1142}
        style={{ position: "absolute", left: 0, top: 0, pointerEvents: "none", fontFamily: FONT }}
      >
        {objectNames.map((n, i) => (
          <g key={n}>
            <text x={102} y={labelNameY[i]} fontSize={20.5} style={textStyle}>{n}</text>
            <text x={102} y={labelZY[i]} fontSize={20.5} style={textStyle}>z = {redshifts[i]}</text>
          </g>
        ))}
        <text x={438} y={1118} fontSize={22.5} textAnchor="middle" style={textStyle}>Rest Wavelength (Å)</text>
        <text transform="translate(46 561) rotate(-90)" fontSize={22.5} textAnchor="middle" style={textStyle}>
          Scaled f
          <tspan fontSize={15} dy={5}>λ</tspan>
          <tspan dy={-5}> + Constant</tspan>
        </text>
      </svg>
    </div>
  );
}
